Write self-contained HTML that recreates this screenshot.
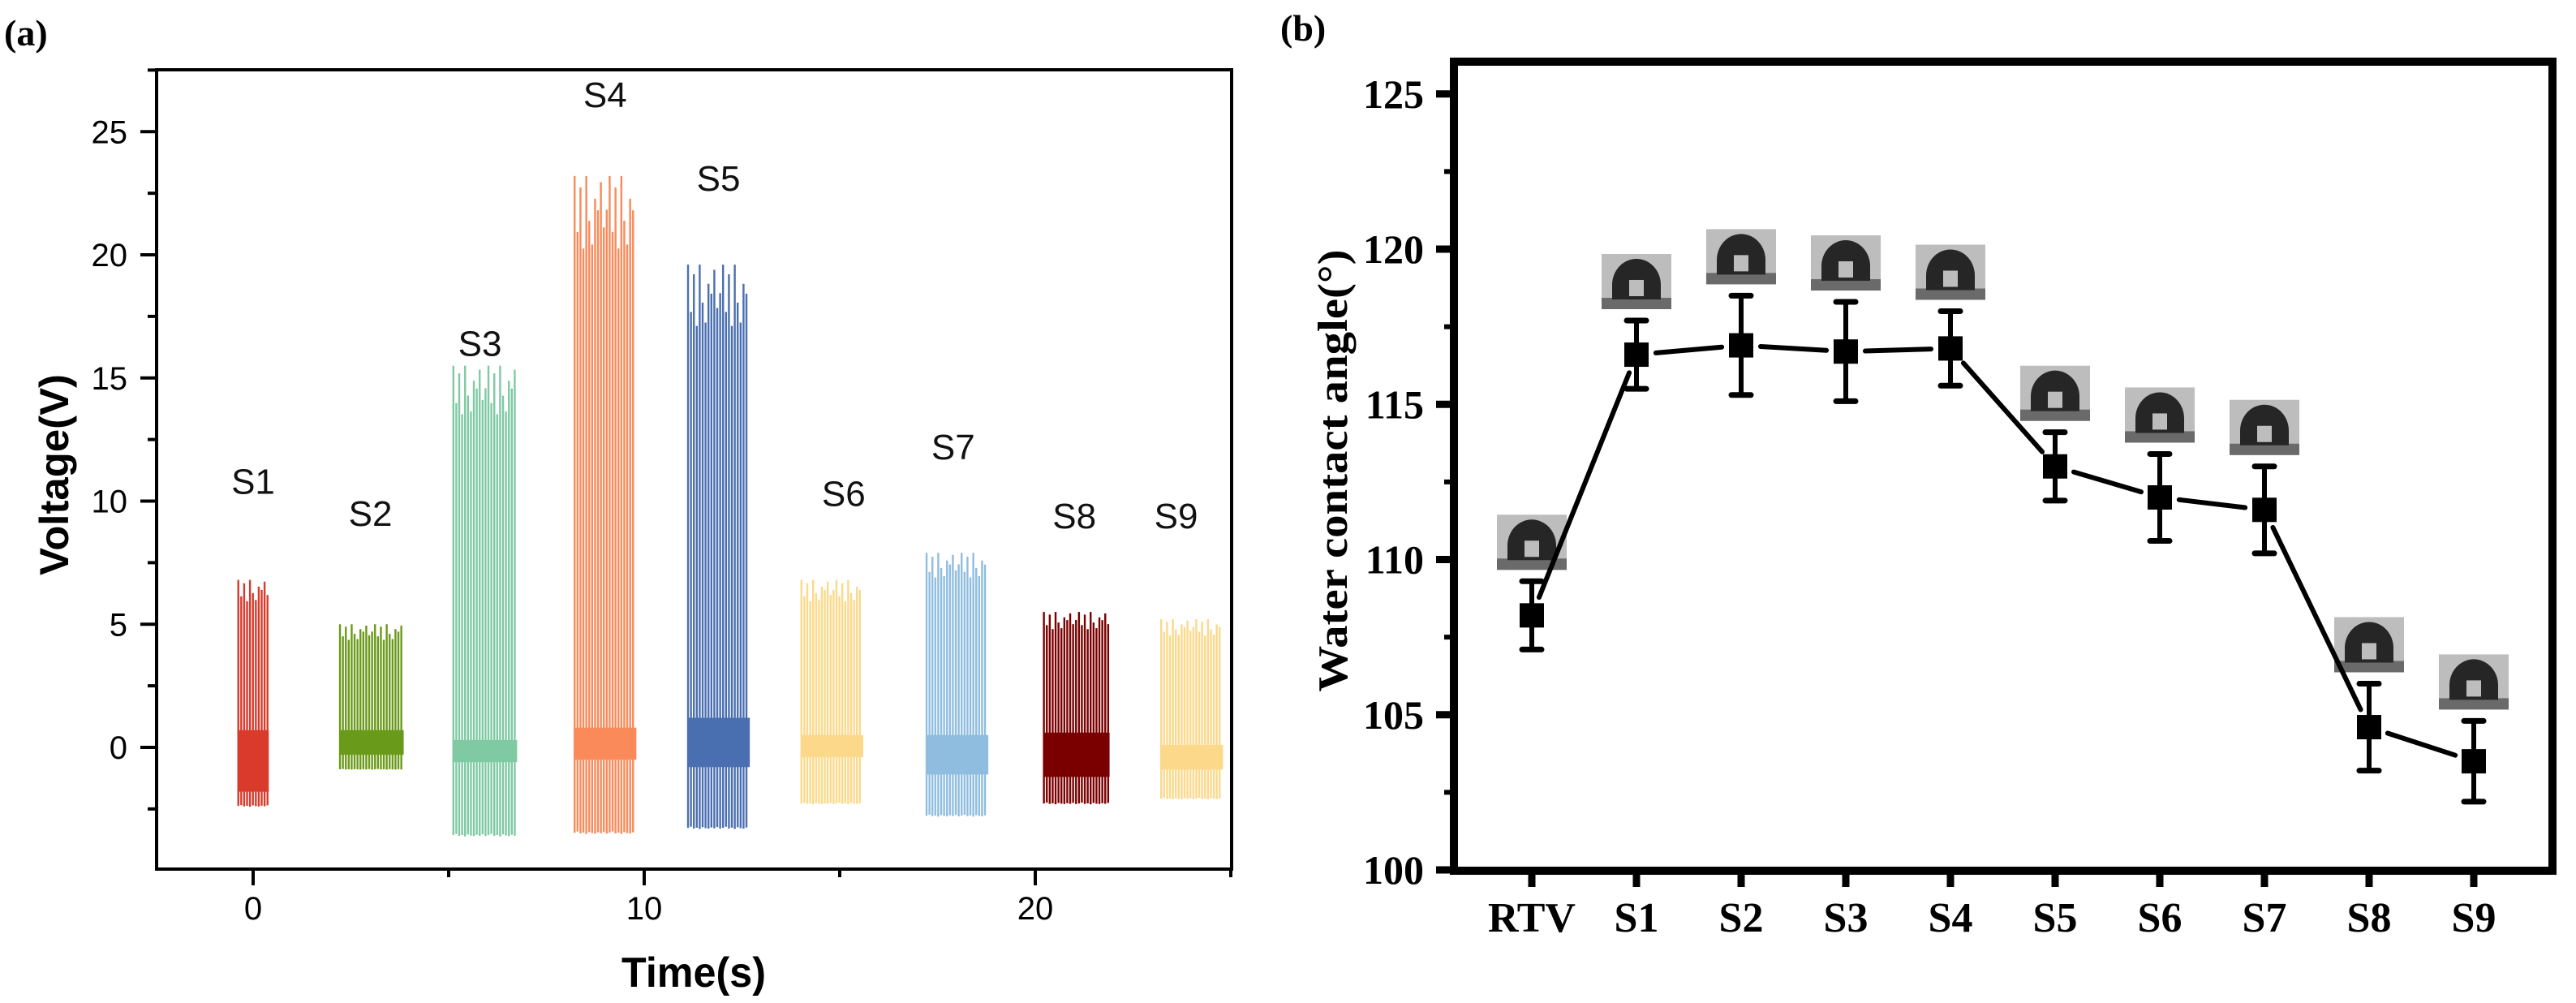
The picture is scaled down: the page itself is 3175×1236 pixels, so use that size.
<!DOCTYPE html>
<html><head><meta charset="utf-8"><style>
html,body{margin:0;padding:0;background:#fff;}
svg{display:block;}
</style></head><body>
<svg id="fig" width="3175" height="1236" viewBox="0 0 3175 1236" xmlns="http://www.w3.org/2000/svg">
<rect width="3175" height="1236" fill="#fff"/>
<g id="panelA"></g>
<g id="panelB"></g>
</svg>
<script>
// ---------- Panel (a) data ----------
const burstNames = ["S1","S2","S3","S4","S5","S6","S7","S8","S9"];
const burstStart = [-0.4, 2.2, 5.1, 8.2, 11.1, 14.0, 17.2, 20.2, 23.2];
const burstEnd   = [0.4, 3.85, 6.75, 9.8, 12.7, 15.6, 18.8, 21.9, 24.8];
const burstMax   = [6.8, 5.0, 15.5, 23.2, 19.6, 6.8, 7.9, 5.5, 5.2];
const burstMin   = [-2.4, -0.9, -3.6, -3.5, -3.3, -2.3, -2.8, -2.3, -2.1];
const bandLo     = [-1.8, -0.3, -0.6, -0.5, -0.8, -0.4, -1.1, -1.2, -0.9];
const bandHi     = [0.7, 0.7, 0.3, 0.8, 1.2, 0.5, 0.5, 0.6, 0.1];
const burstColors = ["#d93a2b","#6a9a1a","#7fcaa3","#fa8a5a","#4a6fb0","#fcd98a","#8fbde0","#7a0000","#fcd88a"];
const labelX = [0.0, 3.0, 5.8, 9.0, 11.9, 15.1, 17.9, 21.0, 23.6];
const labelY = [10.3, 9.0, 15.9, 26.0, 22.6, 9.8, 11.7, 8.9, 8.9];
const yTicksA = [0,5,10,15,20,25];
const xTicksA = [0,10,20];
const spikePattern = [1.0,0.93,0.98,0.9,1.0,0.95,0.88,0.99,0.94,1.02,0.91,0.97];

// ---------- Panel (b) data ----------
const cats = ["RTV","S1","S2","S3","S4","S5","S6","S7","S8","S9"];
const angles = [108.2,116.6,116.9,116.7,116.8,113.0,112.0,111.6,104.6,103.5];
const errs = [1.1,1.1,1.6,1.6,1.2,1.1,1.4,1.4,1.4,1.3];
const yTicksB = [100,105,110,115,120,125];

const NS = "http://www.w3.org/2000/svg";
function mk(parent, tag, attrs, text){
  const e = document.createElementNS(NS, tag);
  for (const k in attrs) e.setAttribute(k, attrs[k]);
  if (text !== undefined) e.textContent = text;
  parent.appendChild(e);
  return e;
}

// ===== Panel A =====
const A = document.getElementById('panelA');
const xA = t => 312 + t * 48.2;
const yA = v => 921 - v * 30.35;
const AL = 193, AR = 1518, AT = 86, AB = 1071;

let lab = mk(A,'text',{x:5,y:56,'font-family':'Liberation Serif, serif','font-weight':'bold','font-size':46},'(a)');



burstNames.forEach((n,i)=>{
  const g = mk(A,'g',{});
  
  
  const x0 = xA(burstStart[i]), x1 = xA(burstEnd[i]);
  const c = burstColors[i];
  mk(g,'rect',{x:x0,y:yA(bandHi[i]),width:x1-x0,height:yA(bandLo[i])-yA(bandHi[i]),fill:c});
  let k = 0;
  for (let x = x0 + 1; x <= x1 - 1; x += 3.6, k++){
    const p = spikePattern[k % spikePattern.length];
    const top = k % 2 === 0 ? burstMax[i]*p : burstMax[i]*p*0.97;
    const bot = burstMin[i]*(0.8 + 0.2*spikePattern[(k+5)%spikePattern.length]);
    mk(g,'line',{x1:x,x2:x,y1:yA(top),y2:yA(bot),stroke:c,'stroke-width':2.4});
  }
  const t = mk(A,'text',{x:xA(labelX[i]),y:yA(labelY[i]),'text-anchor':'middle','font-family':'Liberation Sans, sans-serif','font-size':44,fill:'#111'},n);
  
  
});

const fA = mk(A,'rect',{x:AL,y:AT,width:AR-AL,height:AB-AT,fill:'none',stroke:'#000','stroke-width':4});



for (let v=-2.5; v<=27.5; v+=2.5){
  const major = Math.abs(v % 5) < 1e-6;
  mk(A,'line',{x1:AL-(major?20:11),x2:AL,y1:yA(v),y2:yA(v),stroke:'#000','stroke-width':4});
}
yTicksA.forEach(v=>{
  const t = mk(A,'text',{x:157,y:yA(v)+14,'text-anchor':'end','font-family':'Liberation Sans, sans-serif','font-size':40},String(v));
  
  
});
for (let v=0; v<=25; v+=5){
  const major = v % 10 === 0;
  mk(A,'line',{x1:xA(v),x2:xA(v),y1:AB,y2:AB+(major?20:10),stroke:'#000','stroke-width':4});
}
xTicksA.forEach(v=>{
  const t = mk(A,'text',{x:xA(v),y:1133,'text-anchor':'middle','font-family':'Liberation Sans, sans-serif','font-size':40},String(v));
  
  
});
let xt = mk(A,'text',{x:855,y:1216,'text-anchor':'middle','font-family':'Liberation Sans, sans-serif','font-weight':'bold','font-size':52,textLength:178,lengthAdjust:'spacingAndGlyphs'},'Time(s)');


let yt = mk(A,'text',{x:0,y:0,transform:'translate(84,585) rotate(-90)','text-anchor':'middle','font-family':'Liberation Sans, sans-serif','font-weight':'bold','font-size':50,textLength:248,lengthAdjust:'spacingAndGlyphs'},'Voltage(V)');



// ===== Panel B =====
const B = document.getElementById('panelB');
const xB = i => 1888 + i * 129;
const yB = v => 1072 - (v - 100) * 38.25;
const BL = 1792, BR = 3146, BT = 76, BBm = 1073;

lab = mk(B,'text',{x:1578,y:50,'font-family':'Liberation Serif, serif','font-weight':'bold','font-size':46},'(b)');



cats.forEach((c,i)=>{
  const cx = xB(i), bottom = yB(angles[i]+errs[i]) - 14;
  const g = mk(B,'g',{});
  
  
  const w=86,h=68,x=cx-w/2,y=bottom-h;
  mk(g,'rect',{x:x,y:y,width:w,height:h,fill:'#bdbdbd'});
  mk(g,'rect',{x:x,y:y+h-14,width:w,height:14,fill:'#6a6a6a'});
  mk(g,'path',{d:`M${cx-30},${y+h-12} L${cx-30},${y+h-30} A30 32 0 0 1 ${cx+30},${y+h-30} L${cx+30},${y+h-12} Z`,fill:'#262626'});
  mk(g,'rect',{x:cx-9,y:y+h-36,width:18,height:20,fill:'#d8d8d8',opacity:0.85});
});

for (let i=0;i<cats.length-1;i++){
  const x1=xB(i),y1=yB(angles[i]),x2=xB(i+1),y2=yB(angles[i+1]);
  const dx=x2-x1,dy=y2-y1,L=Math.hypot(dx,dy),g=24;
  const ln = mk(B,'line',{x1:x1+dx*g/L,y1:y1+dy*g/L,x2:x2-dx*g/L,y2:y2-dy*g/L,stroke:'#000','stroke-width':6,'stroke-linecap':'round'});
  
  
}
cats.forEach((c,i)=>{
  const cx=xB(i), ty=yB(angles[i]+errs[i]), by=yB(angles[i]-errs[i]);
  const g = mk(B,'g',{});
  
  
  mk(g,'line',{x1:cx,x2:cx,y1:ty,y2:by,stroke:'#000','stroke-width':6});
  mk(g,'line',{x1:cx-12,x2:cx+12,y1:ty,y2:ty,stroke:'#000','stroke-width':7,'stroke-linecap':'round'});
  mk(g,'line',{x1:cx-12,x2:cx+12,y1:by,y2:by,stroke:'#000','stroke-width':7,'stroke-linecap':'round'});
  const m = mk(B,'rect',{x:cx-15,y:yB(angles[i])-15,width:30,height:30,fill:'#000'});
  
  
});

const fB = mk(B,'rect',{x:BL,y:BT,width:BR-BL,height:BBm-BT,fill:'none',stroke:'#000','stroke-width':10});


for (let v=100; v<=125; v+=2.5){
  const major = Math.abs((v-100)%5)<1e-6;
  mk(B,'line',{x1:BL-(major?22:12),x2:BL,y1:yB(v),y2:yB(v),stroke:'#000','stroke-width':(major?9:6)});
}
yTicksB.forEach(v=>{
  const t = mk(B,'text',{x:1755,y:yB(v)+17,'text-anchor':'end','font-family':'Liberation Serif, serif','font-weight':'bold','font-size':50},String(v));
  
  
});
cats.forEach((c,i)=>{
  mk(B,'line',{x1:xB(i),x2:xB(i),y1:BBm,y2:BBm+20,stroke:'#000','stroke-width':9});
  const t = mk(B,'text',{x:xB(i),y:1148,'text-anchor':'middle','font-family':'Liberation Serif, serif','font-weight':'bold','font-size':52},c);
  
  
});
yt = mk(B,'text',{x:0,y:0,transform:'translate(1660,580) rotate(-90)','text-anchor':'middle','font-family':'Liberation Serif, serif','font-weight':'bold','font-size':52,textLength:545,lengthAdjust:'spacingAndGlyphs'},'Water contact angle(°)');


</script>
</body></html>
